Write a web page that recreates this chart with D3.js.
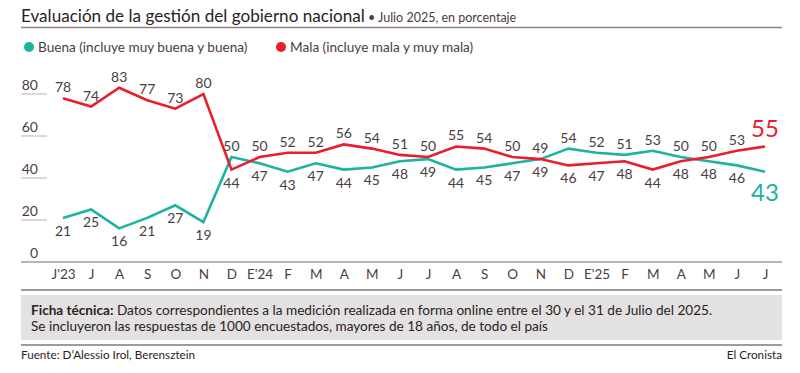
<!DOCTYPE html>
<html>
<head>
<meta charset="utf-8">
<script src="https://cdn.jsdelivr.net/npm/d3@7"></script>
<style>
  body { margin: 0; background: #fff; }
  svg { display: block; font-family: Lato, "Noto Sans", sans-serif; }
</style>
</head>
<body>
<div id="chart"></div>
<script>
// data
const months = ["J'23", "J", "A", "S", "O", "N", "D", "E'24", "F", "M", "A", "M", "J",
    "J", "A", "S", "O", "N", "D", "E'25", "F", "M", "A", "M", "J", "J"];
const buena = [21, 25, 16, 21, 27, 19, 50, 47, 43, 47, 44, 45, 48,
    49, 44, 45, 47, 49, 54, 52, 51, 53, 50, 48, 46, 43];
const mala = [78, 74, 83, 77, 73, 80, 44, 50, 52, 52, 56, 54, 51,
    50, 55, 54, 50, 49, 46, 47, 48, 44, 48, 50, 53, 55];
const yTicks = [0, 20, 40, 60, 80];

const width = 800, height = 373;
const teal = "#1db3a1", red = "#ea1d2c", ink = "#4b3d3d";

const svg = d3.select('#chart').append('svg')
    .attr('width', width)
    .attr('height', height);

// title
const title = svg.append('text')
    .attr('x', 21)
    .attr('y', 22)
    .attr('fill', '#2b2222')
title.append('tspan')
    .attr('font-size', 17.1)
    .text('Evaluación de la gestión del gobierno nacional')
title.append('tspan')
    .attr('font-size', 12.5)
    .attr('fill', ink)
    .text(' • Julio 2025, en porcentaje')

svg.append('line')
    .attr('x1', 21).attr('x2', 782)
    .attr('y1', 27.5).attr('y2', 27.5)
    .attr('stroke', '#8a8282')
    .attr('stroke-width', 1.3)

// legend
const legend = [
    {name: "Buena (incluye muy buena y buena)", color: teal, x: 29},
    {name: "Mala (incluye mala y muy mala)", color: red, x: 281}
];
const leg = svg.append('g').selectAll('g')
    .data(legend)
    .join('g')
    .attr('transform', d => `translate(${d.x},47)`)
leg.append('circle').attr('r', 5).attr('fill', d => d.color)
leg.append('text')
    .attr('x', 9)
    .attr('dy', '0.35em')
    .attr('font-size', 13.6)
    .attr('fill', ink)
    .text(d => d.name)

// scales
const x = d3.scalePoint()
    .domain(d3.range(months.length))
    .range([63, 765]);

const y = d3.scaleLinear()
    .domain([0, 80])
    .range([262, 94]);

// y grid (short ticks with labels on top)
const grid = svg.append('g').selectAll('g')
    .data(yTicks)
    .join('g')
    .attr('transform', d => `translate(0,${y(d)})`)
grid.filter(d => d > 0).append('line')
    .attr('x1', 21).attr('x2', 47)
    .attr('stroke', '#b8b2b2')
    .attr('stroke-width', 1)
grid.append('text')
    .attr('x', 38)
    .attr('y', -4)
    .attr('text-anchor', 'end')
    .attr('font-size', 14)
    .attr('fill', ink)
    .text(d => d)

// baseline
svg.append('line')
    .attr('x1', 21).attr('x2', 782)
    .attr('y1', y(0)).attr('y2', y(0))
    .attr('stroke', '#7d6a6a')
    .attr('stroke-width', 1.2)

// x axis labels
const xAxis = svg.append('g')
    .attr('transform', `translate(0,${y(0)})`)
    .call(d3.axisBottom(x).tickSize(0).tickPadding(7).tickFormat(i => months[i]))
xAxis.select('.domain').remove()
xAxis.selectAll('text')
    .attr('font-size', 13.5)
    .attr('font-family', 'Lato, "Noto Sans", sans-serif')
    .attr('fill', ink)

// lines
const line = d3.line()
    .x((d, i) => x(i))
    .y(d => y(d));

const series = [
    {name: 'Buena', values: buena, color: teal},
    {name: 'Mala', values: mala, color: red}
];

svg.append('g')
    .selectAll('path')
    .data(series)
    .join('path')
    .attr('d', d => line(d.values))
    .attr('fill', 'none')
    .attr('stroke', d => d.color)
    .attr('stroke-width', 2.6)
    .attr('stroke-linejoin', 'miter')

// value labels: higher one above, lower one below
const last = months.length - 1;
const labels = [];
for (let i = 0; i < months.length; i++) {
    const redTop = mala[i] >= buena[i];
    labels.push({i: i, v: mala[i], above: redTop, color: red});
    labels.push({i: i, v: buena[i], above: !redTop, color: teal});
}

svg.append('g')
    .selectAll('text')
    .data(labels)
    .join('text')
    .attr('x', d => x(d.i))
    .attr('y', d => {
        if (d.i === last) return d.above ? y(d.v) - 18 : y(d.v) + 21;
        return d.above ? y(d.v) - 11 : y(d.v) + 13;
    })
    .attr('dy', '0.35em')
    .attr('text-anchor', 'middle')
    .attr('font-size', d => d.i === last ? 24 : 14)
    .attr('fill', d => d.i === last ? d.color : ink)
    .text(d => d.v)

// ficha tecnica box
svg.append('line')
    .attr('x1', 21).attr('x2', 782)
    .attr('y1', 290).attr('y2', 290)
    .attr('stroke', '#a09a9a')
    .attr('stroke-width', 2)
svg.append('rect')
    .attr('x', 21).attr('y', 295)
    .attr('width', 761).attr('height', 45)
    .attr('fill', '#e3e1e1')
svg.append('line')
    .attr('x1', 21).attr('x2', 782)
    .attr('y1', 345).attr('y2', 345)
    .attr('stroke', '#a09a9a')
    .attr('stroke-width', 2)

const ficha = svg.append('text')
    .attr('x', 31)
    .attr('y', 315)
    .attr('font-size', 13.6)
    .attr('fill', '#2b2222')
ficha.append('tspan').attr('font-weight', 'bold').text('Ficha técnica:')
ficha.append('tspan').text(' Datos correspondientes a la medición realizada en forma online entre el 30 y el 31 de Julio del 2025.')
svg.append('text')
    .attr('x', 31)
    .attr('y', 331)
    .attr('font-size', 13.6)
    .attr('fill', '#2b2222')
    .text('Se incluyeron las respuestas de 1000 encuestados, mayores de 18 años, de todo el país')

// footer
svg.append('text')
    .attr('x', 21)
    .attr('y', 359)
    .attr('font-size', 11.7)
    .attr('fill', '#2b2222')
    .text('Fuente: D’Alessio Irol, Berensztein')
svg.append('text')
    .attr('x', 782)
    .attr('y', 359)
    .attr('text-anchor', 'end')
    .attr('font-size', 11.7)
    .attr('fill', '#2b2222')
    .text('El Cronista')
</script>
</body>
</html>
